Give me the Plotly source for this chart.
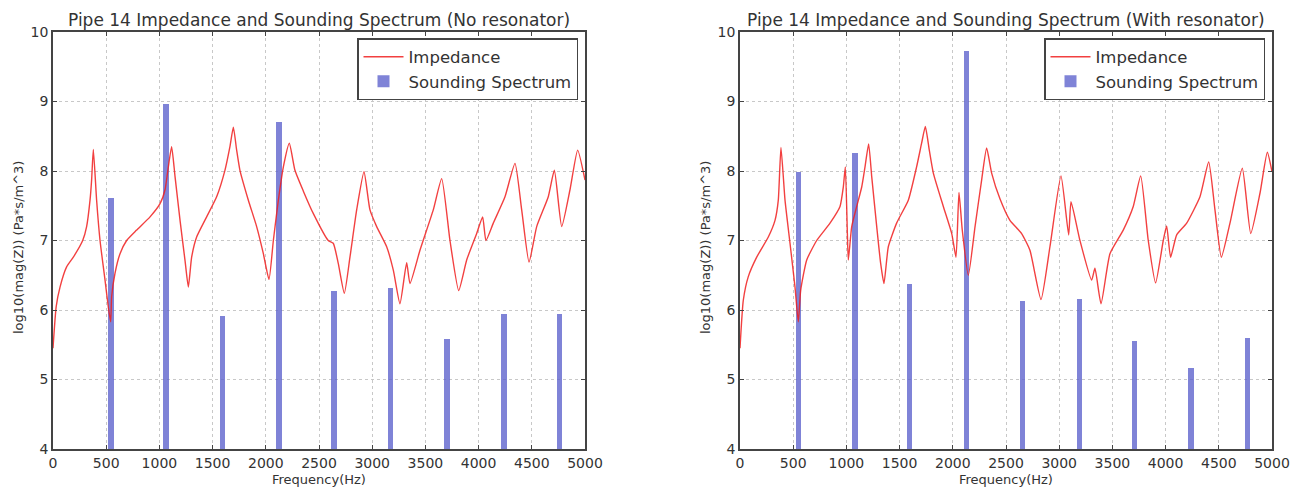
import plotly.graph_objects as go

# impedance curve, no resonator
freq_nr = [0, 30, 66, 128, 191, 279, 316, 348, 363, 379, 410, 442, 489, 520, 542,
           551, 583, 630, 692, 786, 912, 1006, 1053, 1084, 1115, 1147, 1194, 1241, 1272,
           1303, 1350, 1444, 1538, 1616, 1663, 1695, 1726, 1757, 1836, 1914, 1977, 2030,
           2071, 2118, 2165, 2221, 2274, 2353, 2446, 2587, 2634, 2681, 2738,
           2791, 2854, 2923, 2979, 3042, 3136, 3199, 3261, 3324, 3355, 3449, 3574, 3653,
           3731, 3813, 3888, 3982, 4038, 4069, 4138, 4248, 4342, 4405, 4474, 4546, 4655,
           4712, 4781, 4859, 4931, 5000]
imp_nr = [5.45, 6.05, 6.33, 6.62, 6.76, 7.00, 7.20, 7.58, 7.87, 8.31, 7.58, 7.00, 6.43, 6.04, 5.83,
          6.19, 6.53, 6.81, 7.00, 7.15, 7.34, 7.53, 7.73, 8.06, 8.35, 7.92, 7.29, 6.71, 6.33,
          6.76, 7.05, 7.34, 7.63, 8.01, 8.35, 8.63, 8.30, 8.01, 7.58, 7.20, 6.81, 6.44,
          7.00, 7.58, 8.06, 8.40, 8.01, 7.71, 7.39, 7.00, 6.96, 6.67, 6.24,
          6.76, 7.44, 7.99, 7.44, 7.20, 6.91, 6.57, 6.09, 6.68, 6.38, 6.86, 7.44, 7.89,
          7.00, 6.28, 6.72, 7.10, 7.34, 7.00, 7.25, 7.63, 8.11, 7.44, 6.69, 7.20, 7.63,
          8.01, 7.20, 7.73, 8.30, 7.87]

# impedance curve, with resonator
freq_wr = [0, 31, 78, 157, 266, 329, 360, 385, 423, 470, 517, 548,
           570, 627, 721, 846, 940, 971, 990, 1009, 1018, 1050, 1097, 1144, 1175, 1209,
           1238, 1285, 1322, 1353, 1394, 1472, 1582, 1660, 1707, 1742, 1779, 1817, 1911,
           1990, 2030, 2058, 2089, 2146, 2209, 2271, 2318, 2365, 2443, 2537, 2647, 2725,
           2829, 2913, 3017, 3089, 3111, 3195, 3305, 3336, 3393, 3477, 3602, 3696, 3766,
           3837, 3906, 3978, 4010, 4047, 4104, 4198, 4323, 4405, 4464, 4524, 4605, 4721,
           4800, 4887, 4956, 5000]
imp_wr = [5.45, 6.14, 6.48, 6.76, 7.05, 7.29, 7.58, 8.34, 7.58, 6.96, 6.33, 5.83,
          6.28, 6.72, 7.00, 7.25, 7.49, 7.77, 8.06, 7.10, 6.72, 7.20, 7.49, 7.77, 8.06, 8.39,
          7.92, 7.20, 6.67, 6.38, 6.91, 7.25, 7.58, 8.06, 8.40, 8.64, 8.30, 7.97, 7.49,
          7.10, 6.76, 7.69, 7.15, 6.50, 7.20, 7.87, 8.33, 7.97, 7.60, 7.29, 7.10, 6.86,
          6.15, 6.91, 7.93, 7.08, 7.56, 7.00, 6.43, 6.60, 6.09, 6.81, 7.15, 7.49, 7.93,
          7.00, 6.39, 7.00, 7.21, 6.76, 7.08, 7.25, 7.63, 8.13, 7.44, 6.76, 7.25, 8.04,
          7.10, 7.68, 8.27, 7.99]

# sounding spectrum peaks
bar_f_nr = [545, 1062, 1595, 2124, 2640, 3172, 3703, 4239, 4758]
bar_v_nr = [7.61, 8.97, 5.92, 8.71, 6.28, 6.32, 5.58, 5.94, 5.94]
bar_f_wr = [551, 1081, 1591, 2130, 2653, 3189, 3706, 4238, 4771]
bar_v_wr = [7.99, 8.26, 6.37, 9.72, 6.13, 6.16, 5.56, 5.16, 5.60]

titles = ["Pipe 14 Impedance and Sounding Spectrum (No resonator)",
          "Pipe 14 Impedance and Sounding Spectrum (With resonator)"]

FONT = "DejaVu Sans"
RED = "rgba(240,30,30,0.85)"
BLUE = "rgba(95,100,205,0.8)"

W, H = 1291, 488

fig = go.Figure()

panels = [
    (freq_nr, imp_nr, bar_f_nr, bar_v_nr, "x", "y", "legend"),
    (freq_wr, imp_wr, bar_f_wr, bar_v_wr, "x2", "y2", "legend2"),
]
for f, z, bf, bv, xa, ya, lg in panels:
    fig.add_trace(go.Bar(x=bf, y=bv, width=50, marker=dict(color=BLUE, line=dict(width=0)),
                         name="Sounding Spectrum", xaxis=xa, yaxis=ya, legend=lg))
    fig.add_trace(go.Scatter(x=f, y=z, mode="lines",
                             line=dict(color=RED, width=1.4, shape="spline", smoothing=0.5),
                             name="Impedance", xaxis=xa, yaxis=ya, legend=lg))


def px_x(p):
    return p / W


def px_y(p):
    return 1 - p / H


x_dom = [[px_x(53), px_x(585)], [px_x(740), px_x(1272)]]
y_dom = [px_y(449), px_y(32)]

axis_common = dict(showline=True, linecolor="#444", linewidth=1.5, mirror="ticks",
                   ticks="inside", ticklen=4, tickcolor="#444", automargin=False,
                   showgrid=True, gridcolor="#c8c8c8", griddash="dot", gridwidth=1,
                   zeroline=False, tickfont=dict(family=FONT, size=14, color="#333"))

for i, (xa, ya) in enumerate([("xaxis", "yaxis"), ("xaxis2", "yaxis2")]):
    anchor_y = "y" if i == 0 else "y2"
    anchor_x = "x" if i == 0 else "x2"
    fig.update_layout(**{
        xa: dict(axis_common, domain=x_dom[i], anchor=anchor_y, range=[0, 5000],
                 tickvals=list(range(0, 5001, 500))),
        ya: dict(axis_common, domain=y_dom, anchor=anchor_x, range=[4, 10], dtick=1),
    })

for i, t in enumerate(titles):
    cx = (x_dom[i][0] + x_dom[i][1]) / 2
    fig.add_annotation(text=t, x=cx, y=px_y(20), xref="paper", yref="paper",
                       showarrow=False, xanchor="center", yanchor="middle",
                       font=dict(family=FONT, size=17, color="#333"))
    # axis titles
    fig.add_annotation(text="Frequency(Hz)", x=cx, y=px_y(479), xref="paper", yref="paper",
                       showarrow=False, xanchor="center", yanchor="middle",
                       font=dict(family=FONT, size=13, color="#333"))
    fig.add_annotation(text="log10(mag(Z)) (Pa*s/m^3)", x=px_x(x_dom[i][0] * W - 35),
                       y=px_y(248), xref="paper", yref="paper", textangle=-90,
                       showarrow=False, xanchor="center", yanchor="middle",
                       font=dict(family=FONT, size=13, color="#333"))

legend_style = dict(bgcolor="white", bordercolor="#444", borderwidth=1.5,
                    font=dict(family=FONT, size=16.5, color="#333"),
                    xanchor="right", yanchor="top", traceorder="reversed",
                    itemwidth=40, tracegroupgap=0)
fig.update_layout(
    legend=dict(legend_style, x=px_x(578), y=px_y(38)),
    legend2=dict(legend_style, x=px_x(1265), y=px_y(38)),
    width=W, height=H,
    margin=dict(l=0, r=0, t=0, b=0),
    paper_bgcolor="white", plot_bgcolor="white",
    bargap=0, showlegend=True,
)

# drop the default page margin so the figure fills the window exactly
fig.write_html("out.html", config={"displayModeBar": False},
               post_script="document.body.style.margin='0';document.body.style.overflow='hidden';")
